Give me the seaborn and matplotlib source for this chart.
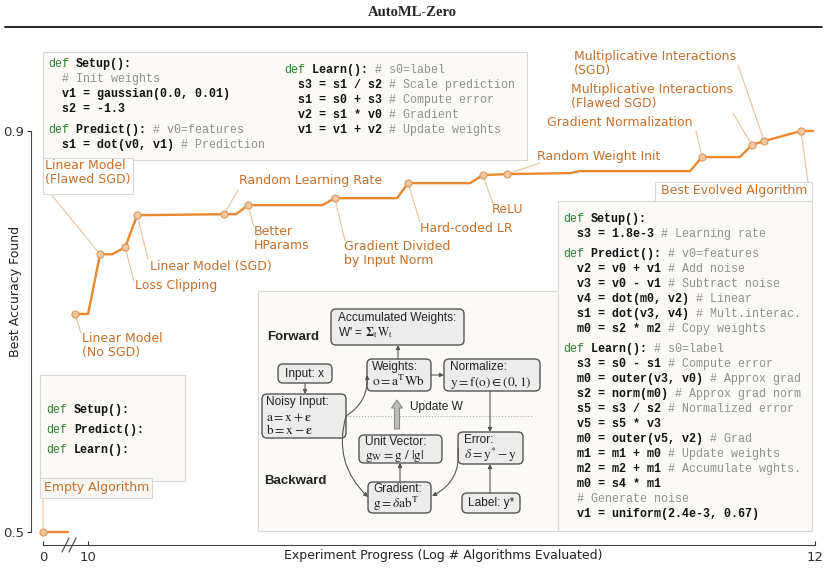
import numpy as np
import matplotlib
matplotlib.use("Agg")
import matplotlib.pyplot as plt
import matplotlib.patches as mpatches
from matplotlib.lines import Line2D
from matplotlib.transforms import Affine2D
import seaborn as sns

sns.set_theme(style="ticks")
plt.rcParams["font.family"] = ["DejaVu Sans"]
plt.rcParams["mathtext.fontset"] = "stix"

# best accuracy vs experiment progress (log # algorithms evaluated)
empty_x = [0.0, 9.27]
empty_y = [0.5, 0.5]
curve_x = [9.964, 10.0, 10.033, 10.066, 10.102, 10.135, 10.374, 10.407, 10.44, 10.644,
           10.679, 10.85, 10.88, 11.051, 11.086, 11.152, 11.326, 11.353, 11.656, 11.689,
           11.793, 11.826, 11.86, 11.961, 11.994]
curve_y = [0.7175, 0.7175, 0.777, 0.777, 0.784, 0.816, 0.817, 0.817, 0.826, 0.826,
           0.833, 0.833, 0.848, 0.848, 0.856, 0.857, 0.858, 0.86, 0.86, 0.874,
           0.874, 0.886, 0.89, 0.9, 0.9]

# discoveries along the curve
milestone_x = [0.0, 9.964, 10.033, 10.102, 10.135, 10.374, 10.44, 10.679, 10.88,
               11.086, 11.152, 11.689, 11.826, 11.86, 11.961]
milestone_y = [0.5, 0.7175, 0.777, 0.784, 0.816, 0.817, 0.826, 0.833, 0.848,
               0.856, 0.857, 0.874, 0.886, 0.89, 0.9]
milestone_names = ["Empty Algorithm", "Linear Model\n(No SGD)", "Linear Model\n(Flawed SGD)",
                   "Loss Clipping", "Linear Model (SGD)", "Random Learning Rate",
                   "Better\nHParams", "Gradient Divided\nby Input Norm", "Hard-coded LR",
                   "ReLU", "Random Weight Init", "Gradient Normalization",
                   "Multiplicative Interactions\n(Flawed SGD)",
                   "Multiplicative Interactions\n(SGD)", "Best Evolved Algorithm"]

x_ticks = [0, 10, 12]
y_ticks = [0.5, 0.9]

# code snippets
first_setup = ["def Setup():", "  # Init weights", "  v1 = gaussian(0.0, 0.01)", "  s2 = -1.3"]
first_predict = ["def Predict(): # v0=features", "  s1 = dot(v0, v1) # Prediction"]
first_learn = ["def Learn(): # s0=label", "  s3 = s1 / s2 # Scale prediction",
               "  s1 = s0 + s3 # Compute error", "  v2 = s1 * v0 # Gradient",
               "  v1 = v1 + v2 # Update weights"]
empty_code = ["def Setup():", "def Predict():", "def Learn():"]
best_setup = ["def Setup():", "  s3 = 1.8e-3 # Learning rate"]
best_predict = ["def Predict(): # v0=features", "  v2 = v0 + v1 # Add noise",
                "  v3 = v0 - v1 # Subtract noise", "  v4 = dot(m0, v2) # Linear",
                "  s1 = dot(v3, v4) # Mult.interac.", "  m0 = s2 * m2 # Copy weights"]
best_learn = ["def Learn(): # s0=label", "  s3 = s0 - s1 # Compute error",
              "  m0 = outer(v3, v0) # Approx grad", "  s2 = norm(m0) # Approx grad norm",
              "  s5 = s3 / s2 # Normalized error", "  v5 = s5 * v3",
              "  m0 = outer(v5, v2) # Grad", "  m1 = m1 + m0 # Update weights",
              "  m2 = m2 + m1 # Accumulate wghts.", "  m0 = s4 * m1",
              "  # Generate noise", "  v1 = uniform(2.4e-3, 0.67)"]

LINE = "#e8892f"
MARK_FC = "#efc79e"
MARK_EC = "#d99a60"
LEADER = "#e7c39e"
LABEL = "#c4702c"
GREEN = "#2e7d32"
COMMENT = "#8f8f8f"
BOXFC = "#fcfaf7"
BOXEC = "#d8d8d8"

W, H = 825, 568
fig = plt.figure(figsize=(W / 100, H / 100), dpi=100)
fig.patch.set_facecolor("white")
pix = Affine2D().scale(1 / W, -1 / H).translate(0, 1) + fig.transFigure

ax = fig.add_axes([38 / W, 1 - 537 / H, 784 / W, 492 / H])

# broken x axis: squeeze everything before the break
BREAK = 9.95
K = (BREAK - 9.876) / BREAK


def fwd(x):
    x = np.asarray(x, dtype=float)
    return np.where(x < BREAK, 9.876 + x * K, x)


def inv(v):
    v = np.asarray(v, dtype=float)
    return np.where(v < BREAK, (v - 9.876) / K, v)


ax.set_xscale("function", functions=(fwd, inv))

sns.lineplot(x=empty_x, y=empty_y, ax=ax, color=LINE, lw=1.7, estimator=None, sort=False)
sns.lineplot(x=curve_x, y=curve_y, ax=ax, color=LINE, lw=1.7, estimator=None, sort=False)
sns.scatterplot(x=milestone_x, y=milestone_y, ax=ax, s=26, color=MARK_FC, edgecolor=MARK_EC,
                linewidth=0.8, zorder=5, clip_on=False)

ax.set_xlim(-1.85, 12.019)
ax.set_ylim(0.495, 0.9858)
ax.set_xticks(x_ticks)
ax.set_xticklabels([str(t) for t in x_ticks])
ax.set_yticks(y_ticks)
ax.set_yticklabels([str(t) for t in y_ticks])
ax.minorticks_off()
ax.tick_params(axis="x", direction="in", length=3, width=0.8, pad=4, labelsize=9.5, colors="#333")
ax.tick_params(axis="y", direction="out", length=3, width=0.8, pad=2, labelsize=9.5, colors="#333")
sns.despine(ax=ax, offset={"left": 5, "bottom": 6}, trim=True)
for s in ["left", "bottom"]:
    ax.spines[s].set_color("#444")
    ax.spines[s].set_linewidth(0.8)

ax.set_xlabel("Experiment Progress (Log # Algorithms Evaluated)", fontsize=9, color="#222")
ax.xaxis.set_label_coords((443 - 38) / 784, -(549 - 537) / 492)
ax.set_ylabel("Best Accuracy Found", fontsize=9, color="#222")
ax.yaxis.set_label_coords((22 - 38) / 784, (537 - 291) / 492)

# axis break marks
for x0 in (62, 69):
    fig.add_artist(Line2D([x0, x0 + 7], [552, 538], transform=pix, color="#444", lw=0.8))

# page header
fig.text(412, 13, "AutoML-Zero", transform=pix, ha="center", va="center",
         fontfamily="Liberation Serif", fontweight="bold", fontsize=10.5)
fig.add_artist(Line2D([5, 822], [27, 27], transform=pix, color="black", lw=1.2))

# label text (left, top) and leader end in pixels
label_pos = [(44, 481), (82, 332), (45, 159), (135, 279), (150, 260), (239, 174),
             (254, 225), (344, 240), (420, 222), (492, 203), (537, 150), (547, 116),
             (571, 83), (574, 50), (661, 184)]
leader_end = [(43, 498), (81, 333), (50, 193), (134, 281), (148, 259), (238, 190),
              (254, 227), (345, 241), (420, 222), (493, 204), (540, 163), (696, 131),
              (733, 113), (738, 65), (808, 182)]

for mx, my, (lx, ly), (ex, ey), name in zip(milestone_x, milestone_y, label_pos,
                                              leader_end, milestone_names):
    ax.annotate("", xy=(mx, my), xycoords="data", xytext=(ex, ey), textcoords=pix,
                annotation_clip=False,
                arrowprops=dict(arrowstyle="-", color=LEADER, lw=0.8, shrinkA=0, shrinkB=3))
    fig.text(lx, ly, name, transform=pix, ha="left", va="top", color=LABEL,
             fontsize=9, linespacing=1.12, zorder=6)


def box(x0, y0, x1, y1, fc=BOXFC, ec=BOXEC, z=1.5):
    fig.add_artist(mpatches.Rectangle((x0, y0), x1 - x0, y1 - y0, transform=pix,
                                      fc=fc, ec=ec, lw=0.8, zorder=z))


box(43, 52, 527, 160)
box(43, 158, 133, 194, fc="white", z=1.6)
box(40, 375, 185, 481)
box(40, 478, 152, 498, fc="#fbf7f2", z=1.6)
box(258, 291, 560, 531)
box(558, 201, 812, 531)
box(655, 182, 812, 201, fc="white", z=1.6)

CW = 7.0
CODE_FS = 8.4


def code(x, y0, lines, step=15):
    for i, line in enumerate(lines):
        y = y0 + i * step + 3.6
        col = len(line) - len(line.lstrip())
        body = line.strip()
        if body.startswith("def "):
            fig.text(x + col * CW, y, "def", transform=pix, va="baseline", color=GREEN,
                     fontfamily="Liberation Mono", fontsize=CODE_FS, zorder=4)
            col += 4
            body = body[4:]
        if "#" in body:
            i_c = body.index("#")
            stmt, comm = body[:i_c], body[i_c:]
        else:
            stmt, comm = body, ""
        if stmt.strip():
            fig.text(x + col * CW, y, stmt, transform=pix, va="baseline", color="#111",
                     fontfamily="Liberation Mono", fontweight="bold", fontsize=CODE_FS, zorder=4)
        if comm:
            fig.text(x + (col + len(stmt)) * CW, y, comm, transform=pix, va="baseline",
                     color=COMMENT, fontfamily="Liberation Mono", fontsize=CODE_FS, zorder=4)


code(48, 63, first_setup)
code(48, 129, first_predict)
code(284, 69, first_learn)
code(46, 409, empty_code, step=20)
code(563, 218, best_setup)
code(563, 253, best_predict)
code(563, 348, best_learn)

# forward / backward diagram
DFS = 8.6
MFS = 9.6
GRAYBOX = "#ececec"
DEDGE = "#555555"


def dbox(x0, y0, x1, y1):
    fig.add_artist(mpatches.FancyBboxPatch((x0, y0), x1 - x0, y1 - y0, transform=pix,
                                           boxstyle="round,pad=0,rounding_size=5",
                                           fc=GRAYBOX, ec=DEDGE, lw=1.0, zorder=2.5))


def dtext(x, y, s, **kw):
    fig.text(x, y, s, transform=pix, va=kw.pop("va", "center"), ha=kw.pop("ha", "left"),
             fontfamily="Liberation Sans", fontsize=kw.pop("fontsize", DFS),
             color="#222", zorder=4, **kw)


def mtext(x, y, s):
    # formula line, y is the baseline
    dtext(x, y, s, fontsize=MFS, va="baseline")


def darrow(p0, p1, rad=0.0):
    fig.add_artist(mpatches.FancyArrowPatch(p0, p1, transform=pix, arrowstyle="-|>",
                                            mutation_scale=6, color="#555", lw=0.8,
                                            shrinkA=0, shrinkB=0,
                                            connectionstyle=f"arc3,rad={rad}", zorder=3))


dbox(331, 309, 464, 345)
dtext(338, 318, "Accumulated Weights:")
dtext(338, 336, r"W' = $\mathbf{\Sigma}_{\mathrm{t}}\,\mathrm{W}_{\mathrm{t}}$", va="baseline")
dbox(278, 364, 332, 383)
dtext(305, 373.5, "Input: x", ha="center")
dbox(262, 394, 346, 438)
dtext(266, 402, "Noisy Input:")
mtext(266, 421, r"$\mathrm{a} = \mathrm{x} + \mathbf{\epsilon}$")
mtext(266, 434, r"$\mathrm{b} = \mathrm{x} - \mathbf{\epsilon}$")
dbox(367, 359, 431, 391)
dtext(372, 367, "Weights:")
mtext(372, 386, r"$\mathrm{o} = \mathrm{a}^{\mathrm{T}}\mathrm{Wb}$")
dbox(444, 359, 540, 391)
dtext(450, 367, "Normalize:")
mtext(450, 386, r"$\mathrm{y} = \mathrm{f(o)} \in (0, 1)$")
dbox(359, 435, 442, 463)
dtext(365, 442, "Unit Vector:")
mtext(365, 459, r"$\mathrm{g}_{\mathrm{W}} = \mathrm{g}\ /\ |\mathrm{g}|$")
dbox(458, 432, 523, 464)
dtext(464, 440, "Error:")
mtext(464, 459, r"$\delta = \mathrm{y}^{*} - \mathrm{y}$")
dbox(368, 482, 431, 513)
dtext(373, 489, "Gradient:")
mtext(373, 508, r"$\mathrm{g} = \delta\mathrm{ab}^{\mathrm{T}}$")
dbox(462, 493, 520, 513)
dtext(491, 503, "Label: y*", ha="center")
dtext(267, 337, "Forward", fontsize=9.5, fontweight="bold")
dtext(264, 481, "Backward", fontsize=9.5, fontweight="bold")
dtext(410, 407, "Update W")
fig.add_artist(Line2D([347, 532], [416, 416], transform=pix, color="#999", lw=0.7,
                      linestyle=(0, (1, 2)), zorder=2.4))
fig.add_artist(mpatches.FancyArrow(397, 429, 0, -29, width=5, head_width=11, head_length=8,
                                   length_includes_head=True, transform=pix,
                                   fc="#bdbdbd", ec="#8a8a8a", lw=0.8, zorder=3))

darrow((305, 383), (305, 394))
darrow((398, 359), (398, 345))
darrow((431, 375), (444, 375))
darrow((490, 391), (490, 432))
darrow((490, 493), (490, 464))
darrow((400, 482), (400, 463))
darrow((346, 416), (367, 375), rad=0.3)
darrow((346, 416), (368, 497), rad=0.3)
darrow((458, 448), (432, 496), rad=-0.35)

fig.savefig("out.png", dpi=100)
